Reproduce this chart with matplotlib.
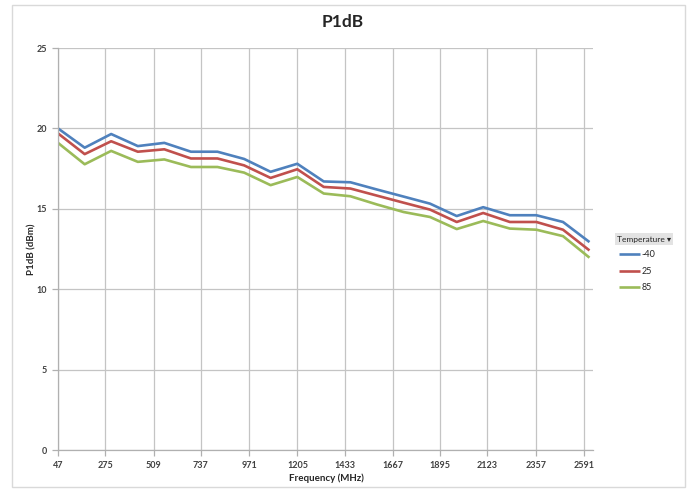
import matplotlib
matplotlib.use("Agg")
import matplotlib.pyplot as plt
from matplotlib.patches import Rectangle

plt.rcParams['font.family'] = ['Lato', 'DejaVu Sans']

# ---- data ----
freq_mhz = [47, 176, 304, 433, 561, 690, 818, 947, 1075, 1204, 1332,
            1461, 1589, 1718, 1846, 1975, 2103, 2232, 2360, 2489, 2617]
tick_labels = [47, 275, 509, 737, 971, 1205, 1433, 1667, 1895, 2123, 2357, 2591]
series_names = ['-40', '25', '85']
p1db_m40 = [20.0, 18.8, 19.65, 18.9, 19.1, 18.55, 18.55, 18.1, 17.3, 17.8, 16.7,
            16.65, 16.2, 15.76, 15.32, 14.55, 15.1, 14.6, 14.6, 14.18, 12.93]
p1db_25 = [19.69, 18.4, 19.2, 18.55, 18.7, 18.13, 18.13, 17.7, 16.92, 17.46, 16.36,
           16.26, 15.82, 15.38, 14.95, 14.18, 14.74, 14.18, 14.18, 13.7, 12.41]
p1db_85 = [19.1, 17.77, 18.6, 17.92, 18.07, 17.6, 17.6, 17.25, 16.47, 16.98, 15.95,
           15.78, 15.27, 14.8, 14.49, 13.74, 14.24, 13.77, 13.7, 13.3, 11.96]
colors = ['#4F81BD', '#C0504D', '#9BBB59']

W, H = 691, 490
fig = plt.figure(figsize=(W / 100, H / 100), dpi=100)
fig.patch.set_facecolor('white')

# chart border
fig.patches.append(Rectangle((12 / W, 1 - 487 / H), (685 - 12) / W, (487 - 5) / H,
                             transform=fig.transFigure, fill=False,
                             edgecolor='#d9d9d9', linewidth=1.0))

left, right, top, bottom = 58, 593, 48, 450
ax = fig.add_axes([left / W, 1 - bottom / H, (right - left) / W, (bottom - top) / H])

for vals, name, c in zip([p1db_m40, p1db_25, p1db_85], series_names, colors):
    ax.plot(freq_mhz, vals, color=c, linewidth=1.9, label=name,
            solid_joinstyle='round', solid_capstyle='butt')

ax.set_xlim(47, 2634)
ax.set_ylim(0, 25)
ax.set_xticks(tick_labels)
ax.set_xticklabels([str(t) for t in tick_labels])
ax.set_yticks([0, 5, 10, 15, 20, 25])

grid_c = '#c4c4c4'
ax.grid(True, color=grid_c, linewidth=0.9)
ax.set_axisbelow(True)
for s in ['top', 'right']:
    ax.spines[s].set_visible(False)
for s in ['left', 'bottom']:
    ax.spines[s].set_color('#b0b0b0')
    ax.spines[s].set_linewidth(0.9)
ax.tick_params(axis='both', direction='out', length=4, width=0.9, color='#b0b0b0',
               labelsize=6.5, labelcolor='#404040', pad=4)
for lab in ax.get_xticklabels() + ax.get_yticklabels():
    lab.set_fontweight('bold')

ax.set_xlabel('Frequency (MHz)', fontsize=7, fontweight='bold', color='#262626', va='center')
ax.set_ylabel('P1dB (dBm)', fontsize=7, fontweight='bold', color='#262626', va='center')
ax.xaxis.set_label_coords((326 - left) / (right - left), (bottom - 478) / (bottom - top))
ax.yaxis.set_label_coords((32 - left) / (right - left), (bottom - 249) / (bottom - top))

fig.text(343 / W, 1 - 22 / H, 'P1dB', ha='center', va='center',
         fontsize=12.5, fontweight='bold', color='#262626')

# legend title button
fig.text(617 / W, 1 - 239 / H, 'Temperature \u25be', ha='left', va='center',
         fontsize=6, color='#262626',
         bbox=dict(boxstyle='square,pad=0.25', facecolor='#e3e3e3', edgecolor='none'))

leg = ax.legend(loc='upper left', bbox_to_anchor=(619 / W, 1 - 250 / H),
                bbox_transform=fig.transFigure, frameon=False, fontsize=6.5,
                handlelength=2.3, handletextpad=0.2, labelspacing=0.85,
                borderpad=0, borderaxespad=0)
for t in leg.get_texts():
    t.set_color('#262626')

fig.savefig('out.png', dpi=100, facecolor='white')
